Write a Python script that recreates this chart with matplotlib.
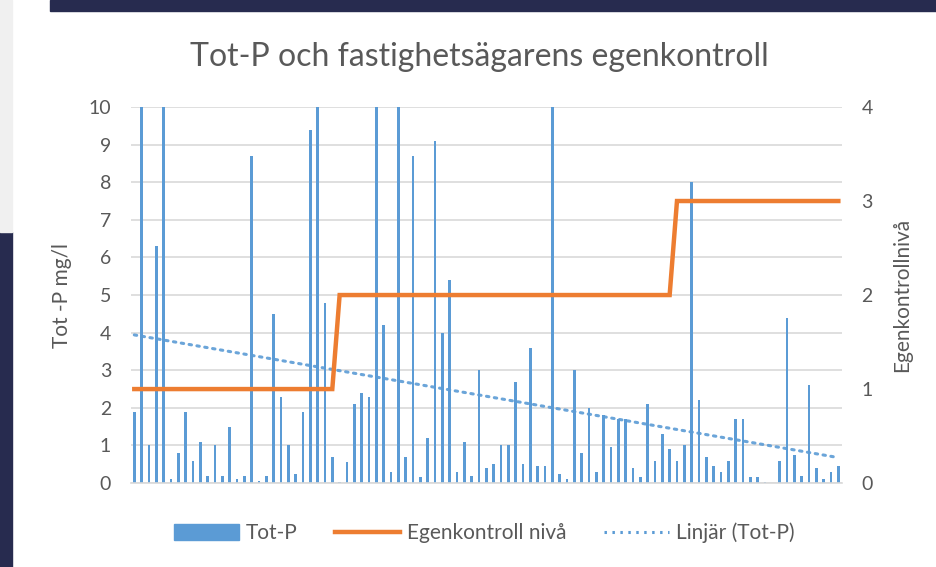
import matplotlib.pyplot as plt
import matplotlib.patches as mpatches
from matplotlib.lines import Line2D
import numpy as np

# Tot-P per prov (mg/l); staplar över 10 är kapade i diagrammet
tot_p = [1.9, 16.5, 1.0, 6.3, 15.0, 0.1, 0.8, 1.9, 0.6, 1.1,
         0.2, 1.0, 0.2, 1.5, 0.1, 0.2, 8.7, 0.05, 0.2, 4.5,
         2.3, 1.0, 0.25, 1.9, 9.4, 10.0, 4.8, 0.7, 0.02, 0.55,
         2.1, 2.4, 2.3, 10.0, 4.2, 0.3, 10.0, 0.7, 8.7, 0.15,
         1.2, 9.1, 4.0, 5.4, 0.3, 1.1, 0.2, 3.0, 0.4, 0.5,
         1.0, 1.0, 2.7, 0.5, 3.6, 0.45, 0.45, 10.0, 0.25, 0.1,
         3.0, 0.8, 2.0, 0.3, 1.8, 0.95, 1.7, 1.7, 0.4, 0.15,
         2.1, 0.6, 1.3, 0.9, 0.6, 1.0, 8.0, 2.2, 0.7, 0.45,
         0.3, 0.6, 1.7, 1.7, 0.15, 0.15, 0.03, 0.0, 0.6, 4.4,
         0.75, 0.2, 2.6, 0.4, 0.1, 0.3, 0.45]

# egenkontrollnivå per prov
niva = [1] * 28 + [2] * 46 + [3] * 23

blue = '#5B9BD5'
orange = '#ED7D31'
grey = '#595959'

plt.rcParams['font.family'] = ['Lato', 'DejaVu Sans']

fig = plt.figure(figsize=(9.37, 5.67), dpi=100)
ax = fig.add_axes([0.1394, 0.148, 0.7592, 0.6633])

x = np.arange(1, len(tot_p) + 1)
ax.bar(x, tot_p, width=0.38, color=blue, zorder=2)

# linjär trendlinje (som i Excel)
k, m = np.polyfit(x, tot_p, 1)
ax.plot(x, k * x + m, color=blue, linestyle=(0, (0.8, 1.8)),
        linewidth=2.2, dash_capstyle='round', alpha=0.9, zorder=3)

ax.set_xlim(0.5, len(tot_p) + 0.5)
ax.set_ylim(0, 10)
ax.set_yticks(range(0, 11))
ax.set_xticks([])
ax.yaxis.grid(True, color='#d9d9d9', linewidth=1.2)
ax.set_axisbelow(True)
for s in ['top', 'right', 'left']:
    ax.spines[s].set_visible(False)
ax.spines['bottom'].set_color('#d9d9d9')
ax.spines['bottom'].set_linewidth(1.2)
ax.tick_params(axis='y', length=0, pad=14, labelsize=14, labelcolor=grey)
ax.set_ylabel('Tot -P mg/l', fontsize=15, color=grey, labelpad=12)

ax2 = ax.twinx()
ax2.plot(x, niva, color=orange, linewidth=3.2, solid_joinstyle='miter', zorder=4)
ax2.set_ylim(0, 4)
ax2.set_yticks(range(0, 5))
for s in ax2.spines.values():
    s.set_visible(False)
ax2.tick_params(axis='y', length=0, pad=14, labelsize=14, labelcolor=grey)
ax2.set_ylabel('Egenkontrollnivå', fontsize=15, color=grey, labelpad=14)

fig.text(0.512, 0.9, 'Tot-P och fastighetsägarens egenkontroll',
         ha='center', va='center', fontsize=23, color=grey)

handles = [mpatches.Patch(color=blue),
           Line2D([], [], color=orange, linewidth=3.2),
           Line2D([], [], color=blue, linestyle=(0, (0.8, 1.8)), linewidth=2.2)]
labels = ['Tot-P', 'Egenkontroll nivå', 'Linjär (Tot-P)']
fig.legend(handles, labels, loc='center', bbox_to_anchor=(0.517, 0.06), ncol=3,
           frameon=False, fontsize=15, labelcolor=grey, handlelength=3.1,
           handleheight=0.8, columnspacing=1.8, handletextpad=0.35)

# mörk bakgrund runt diagrammet i skärmbilden
fig.patches.append(mpatches.Rectangle((0.053, 0.98), 0.947, 0.02, transform=fig.transFigure,
                                      color='#272b4f', zorder=0))
fig.patches.append(mpatches.Rectangle((0, 0), 0.013, 0.59, transform=fig.transFigure,
                                      color='#272b4f', zorder=0))
fig.patches.append(mpatches.Rectangle((0, 0.59), 0.013, 0.41, transform=fig.transFigure,
                                      color='#f0f0f0', zorder=0))

fig.savefig('out.png', dpi=100)
